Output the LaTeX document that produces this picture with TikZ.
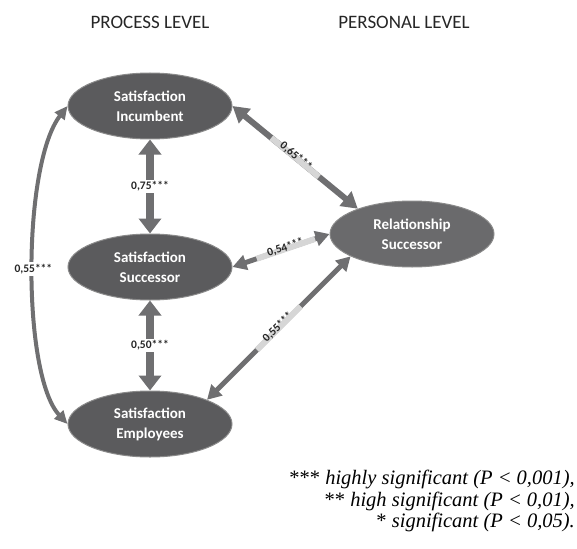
\documentclass[tikz,border=0pt]{standalone}
\usepackage{fontspec}
\setmainfont{Liberation Serif}
\newfontfamily\calibri{Carlito}
\usetikzlibrary{arrows.meta,shapes.geometric}
\definecolor{nodegray}{HTML}{5B5B5D}
\definecolor{relgray}{HTML}{6A6A6C}
\definecolor{rimgray}{HTML}{8A8A8A}
\definecolor{linkgray}{HTML}{6F6F71}
\definecolor{bandgray}{HTML}{D6D6D6}
\definecolor{headgray}{HTML}{262626}

\begin{document}
\begin{tikzpicture}[x=1pt,y=-1pt,
  var/.style={ellipse,draw=rimgray,line width=1pt,fill=nodegray,
    minimum width=164pt,minimum height=66pt,inner sep=0pt,align=center,
    text=white,font=\calibri\bfseries\fontsize{15}{20}\selectfont},
  level/.style={text=headgray,font=\calibri\fontsize{19}{20}\selectfont},
  coef/.style={text=black!85,font=\calibri\bfseries\fontsize{11.5}{12}\selectfont},
  band/.style={coef,fill=bandgray,sloped,inner xsep=12pt,inner ysep=0pt,
    text height=5pt,text depth=1pt},
  gap/.style={coef,fill=white,inner xsep=1pt,inner ysep=2pt},
  vlink/.style={draw=linkgray,line width=8pt,
    {Triangle[width=22pt,length=15pt]}-{Triangle[width=22pt,length=15pt]}},
  dlink/.style={draw=linkgray,line width=6pt,
    {Triangle[width=18pt,length=16pt]}-{Triangle[width=18pt,length=16pt]}},
  slink/.style={draw=linkgray,line width=5pt,
    {Triangle[width=15pt,length=14pt]}-{Triangle[width=15pt,length=14pt]}},
  clink/.style={draw=linkgray,line width=4pt,
    {Triangle[width=12pt,length=13pt]}-{Triangle[width=12pt,length=13pt]}}]
\useasboundingbox (0,0) rectangle (577,548);

% column titles
\node[level] (proc) at (150,22) {PROCESS LEVEL};
\node[level] (pers) at (404,22) {PERSONAL LEVEL};

% variables
\node[var] (inc) at (150,106) {Satisfaction\\Incumbent};
\node[var] (succ) at (150,267) {Satisfaction\\Successor};
\node[var] (emp) at (150,424) {Satisfaction\\Employees};
\node[var,fill=relgray] (rel) at (412,234) {Relationship\\Successor};

% correlations
\draw[vlink] (inc) -- node[gap]{0,75***} (succ);
\draw[vlink] (succ) -- node[gap]{0,50***} (emp);
\draw[clink] (inc.west) .. controls (22,165) and (22,375) .. node[gap,pos=0.5]{0,55***} (emp.west);
\draw[dlink] (inc.east) -- node[band]{0,65***} (rel.155);
\draw[slink] (succ.east) -- node[band,pos=0.55]{0,54***} (rel.west);
\draw[slink] (rel.200) -- node[band]{0,55***} (emp.23);

% significance levels
\node[anchor=north east,align=right,inner sep=0pt,
  font=\itshape\fontsize{20.5}{21.5}\selectfont] (sig) at (575,470)
  {\textup{***} highly significant (P < 0,001),\\
   \textup{**} high significant (P < 0,01),\\
   \textup{*} significant (P < 0,05).};
\end{tikzpicture}
\end{document}
